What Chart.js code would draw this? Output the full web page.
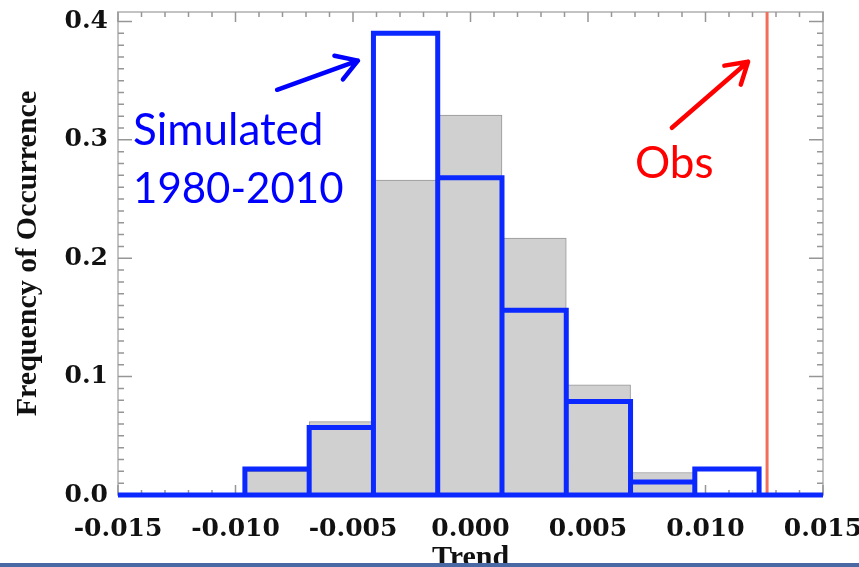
<!DOCTYPE html>
<html>
<head>
<meta charset="utf-8">
<script src="https://cdn.jsdelivr.net/npm/chart.js@4.4.0/dist/chart.umd.min.js"></script>
<style>
    html, body { margin: 0; padding: 0; background: #fff; }
</style>
</head>
<body>
<canvas id="chart" width="859" height="567"></canvas>
<script>

// histogram bins (trend), shared by both distributions
const binEdges = [-0.0096, -0.006865, -0.00413, -0.001395, 0.00134, 0.004075, 0.00681, 0.009545, 0.01228];
// grey filled histogram
const greyFreq = [0.020, 0.062, 0.266, 0.321, 0.217, 0.093, 0.019, 0.0];
// blue outlined histogram, simulated 1980-2010
const simFreq = [0.022, 0.057, 0.390, 0.268, 0.156, 0.079, 0.011, 0.022];
// observed trend
const obsTrend = 0.01262;

const xRange = [-0.015, 0.015];
const yRange = [0, 0.408];
const xStep = 0.005;
const yStep = 0.1;

const blue = 'rgb(10, 40, 255)';

let greyBars = [];
for (let i = 0; i < greyFreq.length; i++) {
    greyBars.push({ x: (binEdges[i] + binEdges[i + 1]) / 2, y: greyFreq[i] });
}

let simOutline = [];
for (let i = 0; i < simFreq.length; i++) {
    simOutline.push({ x: binEdges[i], y: 0 });
    simOutline.push({ x: binEdges[i], y: simFreq[i] });
    simOutline.push({ x: binEdges[i + 1], y: simFreq[i] });
    simOutline.push({ x: binEdges[i + 1], y: 0 });
}

const data = {
    datasets: [
        {
            type: 'line',
            data: simOutline,
            borderColor: blue,
            borderWidth: 5,
            borderJoinStyle: 'miter',
            stepped: true,
            pointRadius: 0,
            clip: false,
            order: 1
        },
        {
            type: 'line',
            data: [{ x: xRange[0], y: 0 }, { x: xRange[1], y: 0 }],
            borderColor: blue,
            borderWidth: 5,
            pointRadius: 0,
            clip: false,
            order: 2
        },
        {
            type: 'bar',
            data: greyBars,
            backgroundColor: 'rgb(208, 208, 208)',
            borderColor: 'rgb(150, 150, 150)',
            borderWidth: 1,
            barPercentage: 1,
            categoryPercentage: 1,
            order: 3
        },
        {
            type: 'line',
            data: [{ x: obsTrend, y: yRange[0] }, { x: obsTrend, y: yRange[1] }],
            borderColor: 'rgb(240, 110, 90)',
            borderWidth: 3,
            stepped: true,
            pointRadius: 0,
            order: 4
        }
    ]
};

// inward ticks on all four sides + light grey frame
const frame = {
    id: 'frame',
    beforeDatasetsDraw: (chart) => {
        const ctx = chart.ctx;
        const a = chart.chartArea;
        const xs = chart.scales.x, ys = chart.scales.y;
        ctx.save();
        ctx.strokeStyle = 'rgb(195, 195, 195)';
        ctx.lineWidth = 2;
        ctx.strokeRect(a.left, a.top, a.right - a.left, a.bottom - a.top);
        ctx.strokeStyle = 'rgb(150, 150, 150)';
        ctx.lineWidth = 1.5;
        ctx.beginPath();
        for (let i = -15; i <= 15; i++) {
            let px = xs.getPixelForValue(i / 1000);
            let len = i % 5 === 0 ? 10 : 5;
            ctx.moveTo(px, a.top); ctx.lineTo(px, a.top + len);
            ctx.moveTo(px, a.bottom); ctx.lineTo(px, a.bottom - len);
        }
        for (let i = 0; i <= 40; i++) {
            let py = ys.getPixelForValue(i / 100);
            let len = i % 10 === 0 ? 14 : 6;
            ctx.moveTo(a.left, py); ctx.lineTo(a.left + len, py);
            ctx.moveTo(a.right, py); ctx.lineTo(a.right - len, py);
        }
        ctx.stroke();
        ctx.restore();
    }
};

function drawArrow(ctx, x0, y0, x1, y1, color) {
    const ang = Math.atan2(y1 - y0, x1 - x0);
    const head = 24, spread = 0.55;
    ctx.strokeStyle = color;
    ctx.lineWidth = 4.5;
    ctx.lineCap = 'round';
    ctx.lineJoin = 'round';
    ctx.beginPath();
    ctx.moveTo(x0, y0);
    ctx.lineTo(x1, y1);
    ctx.moveTo(x1 - head * Math.cos(ang - spread), y1 - head * Math.sin(ang - spread));
    ctx.lineTo(x1, y1);
    ctx.lineTo(x1 - head * Math.cos(ang + spread), y1 - head * Math.sin(ang + spread));
    ctx.stroke();
}

// labels and arrows, placed in data units
const notes = {
    id: 'notes',
    afterDraw: (chart) => {
        const ctx = chart.ctx;
        const xs = chart.scales.x, ys = chart.scales.y;
        const X = v => xs.getPixelForValue(v), Y = v => ys.getPixelForValue(v);
        ctx.save();
        ctx.font = '44px Lato';
        ctx.textAlign = 'left';
        ctx.textBaseline = 'alphabetic';
        ctx.fillStyle = 'rgb(0, 0, 255)';
        ctx.fillText('Simulated', X(-0.01436), Y(0.296));
        ctx.font = '42px Lato';
        ctx.fillText('1980-2010', X(-0.01436), Y(0.247));
        ctx.font = '44px Lato';
        ctx.fillStyle = 'rgb(255, 0, 0)';
        ctx.fillText('Obs', X(0.0070), Y(0.268));
        drawArrow(ctx, X(-0.00823), Y(0.3423), X(-0.00479), Y(0.3669), 'rgb(0, 0, 255)');
        drawArrow(ctx, X(0.00857), Y(0.3102), X(0.01181), Y(0.366), 'rgb(255, 0, 0)');
        // slide footer strip
        ctx.fillStyle = 'rgb(74, 104, 163)';
        ctx.fillRect(0, 563, chart.width, 4);
        ctx.restore();
    }
};

const tickFont = { family: 'DejaVu Serif', weight: 'bold', size: 25 };
const titleFont = { family: 'Liberation Serif', weight: 'bold', size: 30, lineHeight: 1 };

const config = {
    type: 'bar',
    data: data,
    options: {
        responsive: false,
        animation: false,
        layout: {
            padding: { left: 0, right: 36, top: 12, bottom: 0 }
        },
        plugins: {
            legend: { display: false },
            tooltip: { enabled: false }
        },
        scales: {
            x: {
                type: 'linear',
                min: xRange[0],
                max: xRange[1],
                offset: false,
                grid: { display: false, drawTicks: false, offset: false },
                border: { display: false },
                ticks: {
                    stepSize: xStep,
                    padding: 19,
                    maxRotation: 0,
                    autoSkip: false,
                    color: '#111',
                    font: tickFont,
                    callback: v => Math.abs(v) < 1e-9 ? '0.000' : v.toFixed(3)
                },
                title: {
                    display: true,
                    text: 'Trend',
                    color: '#111',
                    font: titleFont,
                    padding: { top: 0, bottom: -6 }
                },
                afterFit: (s) => {
                    s.height = 72;
                    s.paddingLeft = 0;
                    s.paddingRight = 0;
                }
            },
            y: {
                min: yRange[0],
                max: yRange[1],
                grid: { display: false, drawTicks: false },
                border: { display: false },
                ticks: {
                    stepSize: yStep,
                    includeBounds: false,
                    padding: 10,
                    color: '#111',
                    font: tickFont,
                    callback: v => v.toFixed(1)
                },
                title: {
                    display: true,
                    text: 'Frequency of Occurrence',
                    color: '#111',
                    font: titleFont,
                    padding: { top: 13, bottom: 0 }
                },
                afterFit: (s) => {
                    s.width = 118;
                    s.paddingTop = 0;
                    s.paddingBottom = 0;
                }
            }
        }
    },
    plugins: [frame, notes]
};

let chart = new Chart(document.getElementById('chart'), config);

</script>
</body>
</html>
